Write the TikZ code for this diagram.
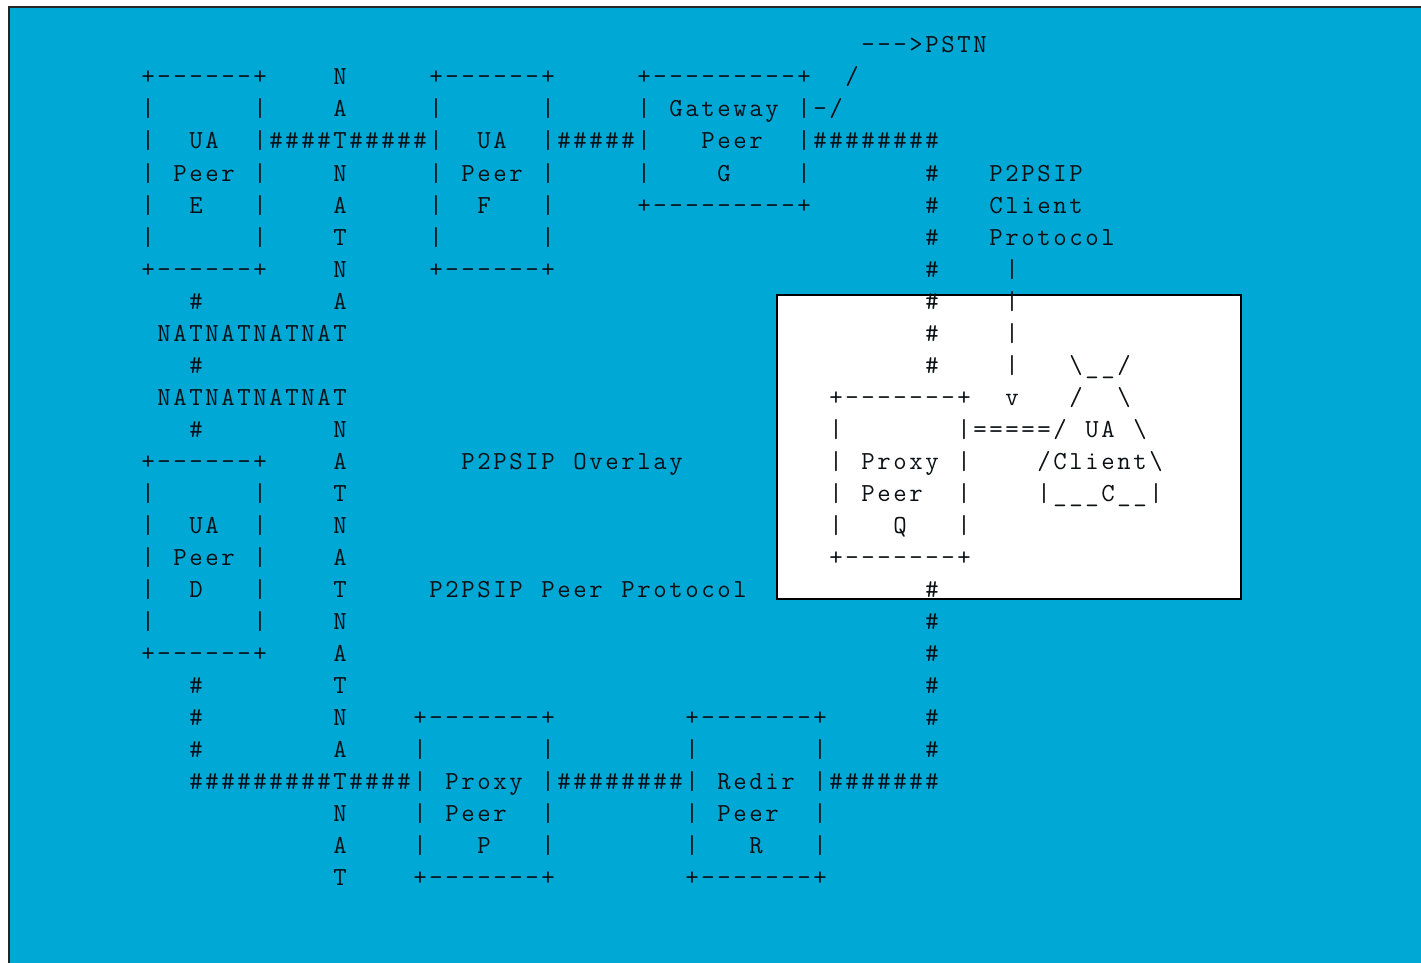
\documentclass[tikz,border=0pt]{standalone}
\usepackage{xcolor}
\definecolor{OverlayBlue}{RGB}{0,168,214}
\definecolor{FrameGray}{RGB}{38,38,38}
\definecolor{InkBlack}{RGB}{10,16,20}
% one character cell of the ascii grid
\newlength\cellw
\setlength\cellw{16pt}
\def\cellsend{cellsend}
\providecommand{\cellbox}[1]{\hbox to\cellw{\hss\ifx#1.\else#1\fi\hss}}
\def\cellloop#1{\ifx#1\cellsend\else\cellbox{#1}\expandafter\cellloop\fi}
\providecommand{\cells}[1]{\cellloop#1\cellsend}
\tikzset{
  % texto a griglia fissa
  art/.style={anchor=base west,inner sep=0pt,outer sep=0pt,text=InkBlack,
    font=\ttfamily\fontsize{26}{30}\selectfont},
  panel/.style={fill=white,draw=black,line width=1.5pt},
  frame/.style={fill=OverlayBlue,draw=FrameGray,line width=2pt}
}
% \art{row}{column}{text}, '.' is a blank cell
\providecommand{\art}[3]{\node[art] (t#1-#2) at ({140+16*#2},{53+32*#1}) {\cells{#3}};}

\begin{document}
\begin{tikzpicture}[x=1pt,y=-1pt]
  \useasboundingbox (0,0) rectangle (1421,963);
  \clip (0,0) rectangle (1421,963);
  \fill[white] (0,0) rectangle (1421,963);
  \filldraw[frame] (9,7) rectangle (1460,1000);
  \filldraw[panel] (777,295) rectangle (1241,599);
  % upper peers and gateway
  \art{0}{45}{--->PSTN}
  \art{1}{0}{+------+....N.....+------+.....+---------+../}
  \art{2}{0}{|......|....A.....|......|.....|.Gateway.|-/}
  \art{3}{0}{|..UA..|\#\#\#\#T\#\#\#\#\#|..UA..|\#\#\#\#\#|...Peer..|\#\#\#\#\#\#\#\#}
  \art{4}{0}{|.Peer.|....N.....|.Peer.|.....|....G....|}
  \art{4}{49}{\#...P2PSIP}
  \art{5}{0}{|..E...|....A.....|..F...|.....+---------+}
  \art{5}{49}{\#...Client}
  \art{6}{0}{|......|....T.....|......|}
  \art{6}{49}{\#...Protocol}
  \art{7}{0}{+------+....N.....+------+}
  \art{7}{49}{\#....|}
  \art{8}{3}{\#........A}
  \art{8}{49}{\#....|}
  \art{9}{1}{NATNATNATNAT}
  \art{9}{49}{\#....|}
  \art{10}{3}{\#}
  \art{10}{49}{\#....|...\textbackslash\_\_/}
  \art{11}{1}{NATNATNATNAT}
  % proxy peer Q and client C
  \art{11}{43}{+-------+..v.../..\textbackslash}
  \art{12}{3}{\#........N}
  \art{12}{43}{|.......|=====/.UA.\textbackslash}
  \art{13}{0}{+------+....A.......P2PSIP.Overlay}
  \art{13}{43}{|.Proxy.|..../Client\textbackslash}
  \art{14}{0}{|......|....T}
  \art{14}{43}{|.Peer..|....|\_\_\_C\_\_|}
  \art{15}{0}{|..UA..|....N}
  \art{15}{43}{|...Q...|}
  \art{16}{0}{|.Peer.|....A}
  \art{16}{43}{+-------+}
  \art{17}{0}{|..D...|....T.....P2PSIP.Peer.Protocol}
  \art{17}{49}{\#}
  \art{18}{0}{|......|....N}
  \art{18}{49}{\#}
  \art{19}{0}{+------+....A}
  \art{19}{49}{\#}
  % lower peers
  \art{20}{3}{\#........T}
  \art{20}{49}{\#}
  \art{21}{3}{\#........N....+-------+........+-------+......\#}
  \art{22}{3}{\#........A....|.......|........|.......|......\#}
  \art{23}{3}{\#\#\#\#\#\#\#\#\#T\#\#\#\#|.Proxy.|\#\#\#\#\#\#\#\#|.Redir.|\#\#\#\#\#\#\#}
  \art{24}{12}{N....|.Peer..|........|.Peer..|}
  \art{25}{12}{A....|...P...|........|...R...|}
  \art{26}{12}{T....+-------+........+-------+}
\end{tikzpicture}
\end{document}
